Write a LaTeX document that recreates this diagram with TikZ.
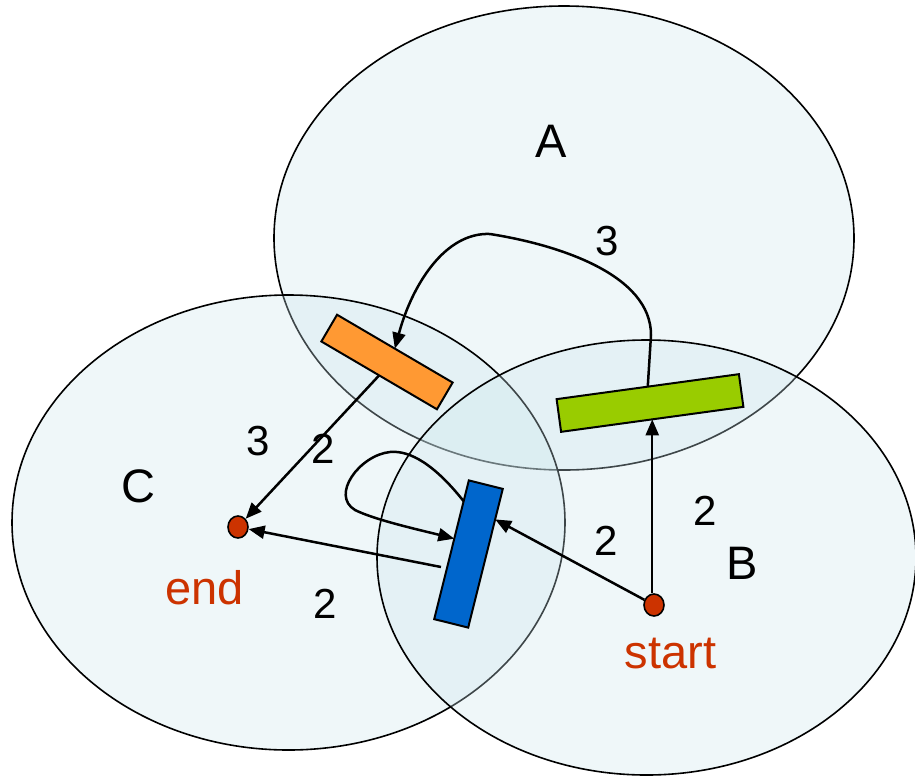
\documentclass[tikz,border=0pt]{standalone}
\usepackage{fontspec}
\setmainfont{Liberation Sans}
\usetikzlibrary{arrows.meta,shapes.geometric,calc}

\definecolor{regionfill}{RGB}{203,229,236}
\definecolor{dotred}{RGB}{204,51,0}
\definecolor{barorange}{RGB}{255,153,51}
\definecolor{bargreen}{RGB}{153,204,0}
\definecolor{barblue}{RGB}{0,102,204}

\tikzset{
  region/.style={draw=black, line width=1.6pt, fill=regionfill, fill opacity=0.31},
  bar/.style={rectangle, draw=black, line width=2pt, inner sep=0pt, outer sep=0pt},
  dot/.style={ellipse, draw=black, line width=1.6pt, fill=dotred,
              minimum width=20pt, minimum height=22pt, inner sep=0pt},
  arr/.style={line width=2.5pt, -{Triangle[length=16pt,width=13pt]}},
  setname/.style={anchor=base, font=\fontsize{47}{56}\selectfont},
  cost/.style={anchor=base, font=\fontsize{42}{50}\selectfont},
  place/.style={anchor=base, text=dotred, font=\fontsize{47}{56}\selectfont}
}

\begin{document}
\begin{tikzpicture}[x=1pt, y=-1pt]
\useasboundingbox (0,0) rectangle (915,777);

% the three regions
\path[region] (564,238) ellipse [x radius=290pt, y radius=232pt];
\path[region] (288.5,522.5) ellipse [x radius=276.5pt, y radius=227.5pt];
\path[region] (646.5,557.5) ellipse [x radius=269.5pt, y radius=217.5pt];

% doors between regions
\node[bar, fill=barorange, minimum width=134pt, minimum height=31pt, rotate=-30.4] (orange) at (387,362) {};
\node[bar, fill=bargreen, minimum width=184pt, minimum height=33pt, rotate=7.8] (green) at (650,403) {};
\node[bar, fill=barblue, minimum width=35pt, minimum height=143pt, rotate=-14] (blue) at (468.5,554) {};

% start and end points
\node[dot] (end) at (238,527) {};
\node[dot] (start) at (654,605) {};

% points on the blue door
\coordinate (blueIn) at ($(blue.north east)!0.22!(blue.south east)$);
\coordinate (loopOut) at ($(blue.north west)!0.15!(blue.south west)$);
\coordinate (loopIn) at ($(blue.north west)!0.42!(blue.south west)$);
\coordinate (blueOut) at (441,567);

% moves
\draw[arr] (start.north -| green.south) -- (green.south);
\draw[arr] (green.north) -- (651,335)
  .. controls (651,275) and (560,245) .. (490,234)
  .. controls (445,232) and (412,285) .. (orange.north);
\draw[arr] (orange.south) -- (end);
\draw[arr] (blueOut) -- (end);
\draw[arr] (start) -- (blueIn);
\draw[arr] (loopOut)
  .. controls (435,465) and (410,450) .. (390,452)
  .. controls (360,455) and (330,495) .. (355,510)
  .. controls (375,520) and (420,530) .. (loopIn);

% labels
\node[setname] (labA) at (551,157) {A};
\node[setname] (labB) at (742,579) {B};
\node[setname] (labC) at (138,502) {C};
\node[place] (labEnd) at (204.5,604) {end};
\node[place] (labStart) at (670.5,668) {start};

\node[cost] (cGO) at (607,255) {3};
\node[cost] (cOE) at (258,455) {3};
\node[cost] (cLoop) at (323,463) {2};
\node[cost] (cBE) at (325,618) {2};
\node[cost] (cSB) at (606,555) {2};
\node[cost] (cSG) at (705,525) {2};
\end{tikzpicture}
\end{document}
